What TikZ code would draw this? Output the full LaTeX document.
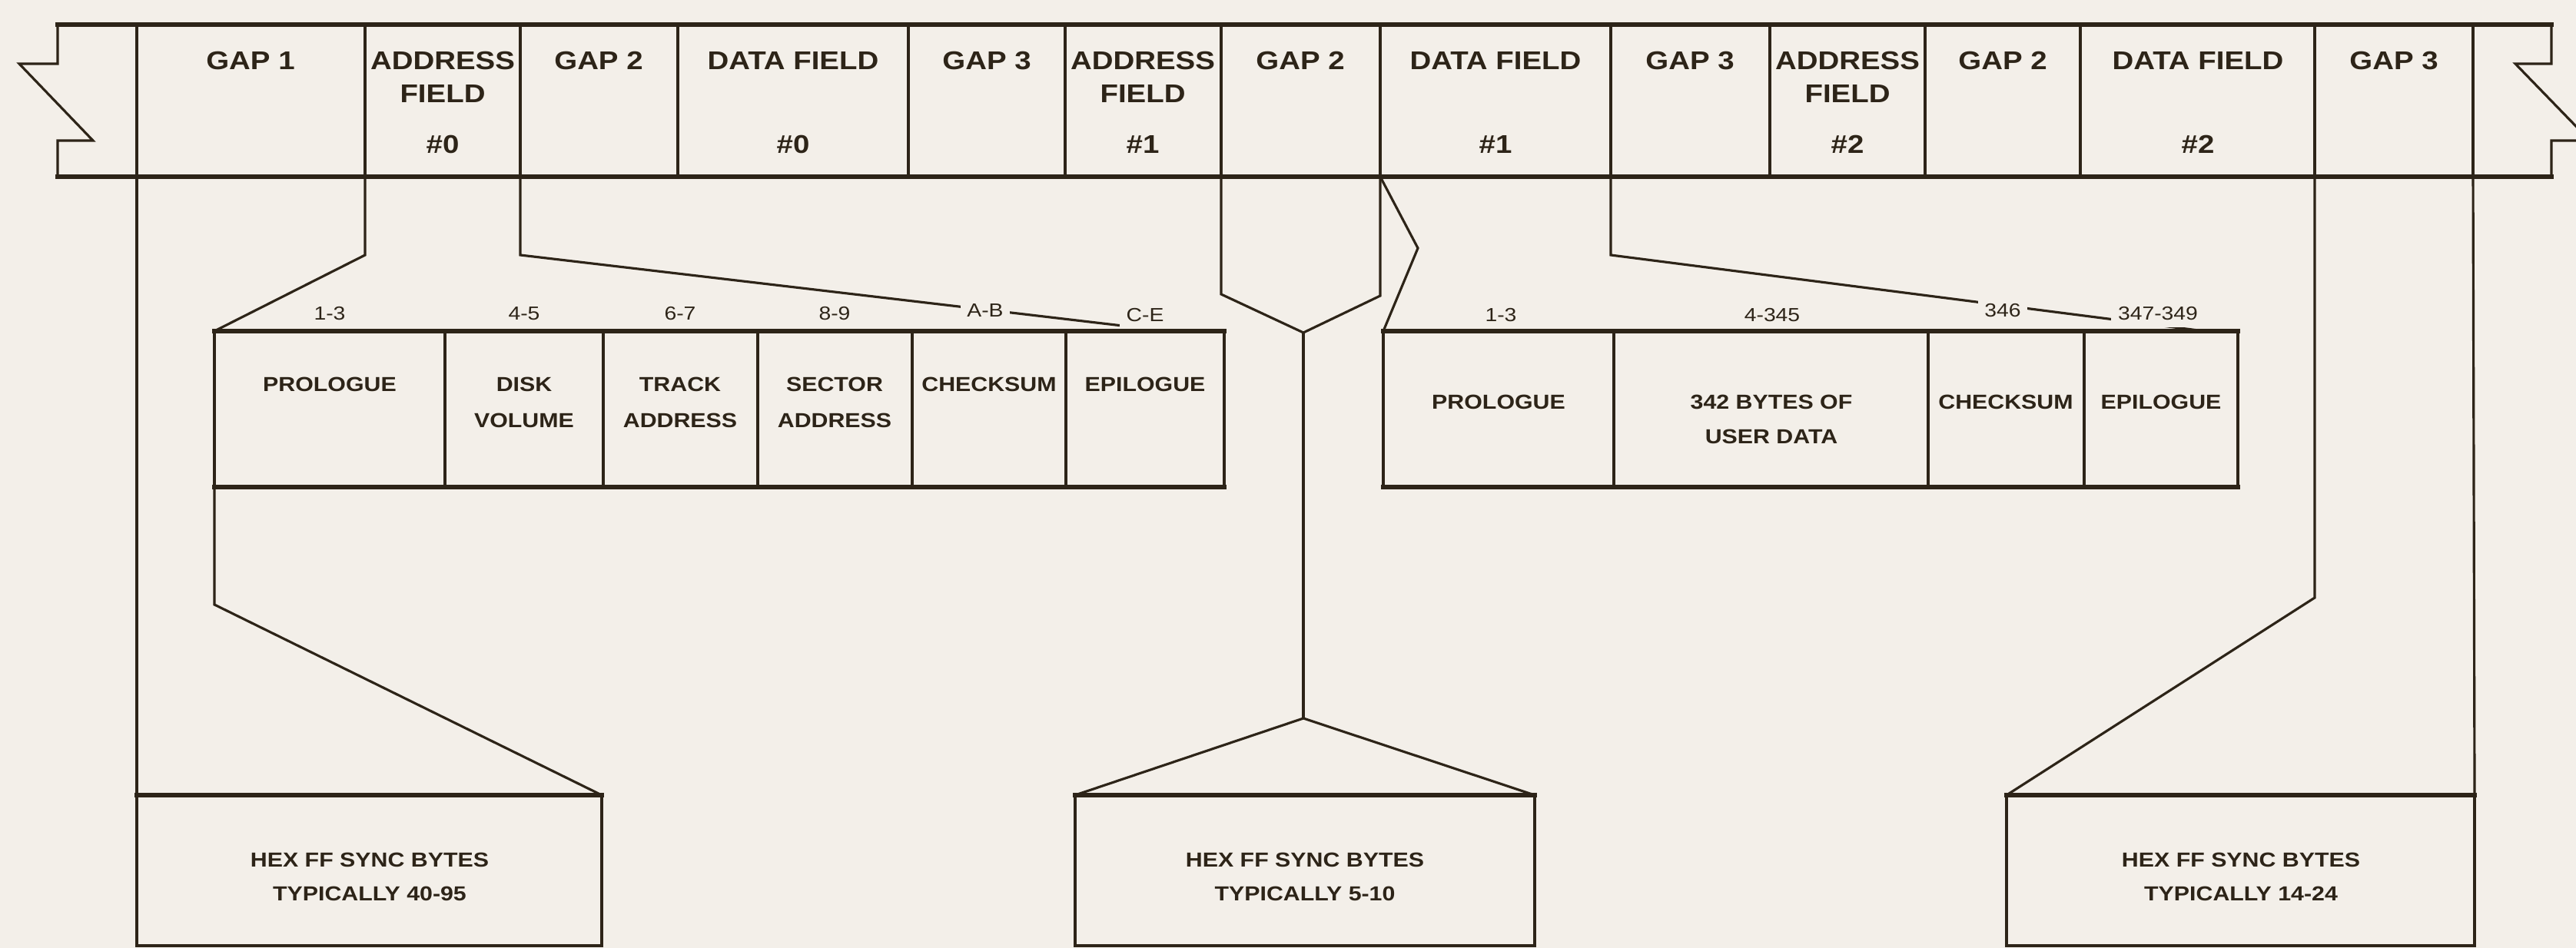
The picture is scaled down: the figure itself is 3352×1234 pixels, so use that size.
\documentclass[tikz,border=0pt]{standalone}
\usepackage{fontspec}
\setmainfont{Liberation Sans}
\newfontfamily\capfont[FakeStretch=1.15]{Liberation Sans}
\newfontfamily\numfont[FakeStretch=1.15]{Liberation Sans}
\definecolor{paper}{RGB}{243,239,233}
\definecolor{ink}{RGB}{45,36,24}
\tikzset{
  hl/.style={line width=1.5pt, draw=ink, line cap=rect},
  vl/.style={line width=0.9pt, draw=ink},
  conn/.style={line width=0.9pt, draw=ink, line join=miter},
  bigtxt/.style={font=\capfont\bfseries\fontsize{9.5}{10}\selectfont, text=ink, inner sep=0pt},
  midtxt/.style={font=\capfont\bfseries\fontsize{7.5}{8}\selectfont, text=ink, inner sep=0pt},
  numtxt/.style={font=\numfont\fontsize{7}{8}\selectfont, text=ink, fill=paper, inner sep=2.5pt},
}
\begin{document}
\begin{tikzpicture}[x=0.01cm,y=-0.01cm]
\useasboundingbox (0,0) rectangle (3352,1234);
\clip (0,0) rectangle (3352,1234);
\fill[paper] (0,0) rectangle (3352,1234);

% ---------------- track strip ----------------
\draw[hl] (75,32) -- (3320,32);
\draw[hl] (75,230) -- (3320,230);
\draw[vl, line join=miter] (75,32) -- (75,83) -- (25,83) -- (121,183) -- (75,183) -- (75,230);
\draw[vl, line join=miter] (3320,32) -- (3320,83) -- (3273,83) -- (3370,183) -- (3320,183) -- (3320,230);
\foreach \x in {178,475,677,882,1182,1386,1589,1796,2096,2303,2505,2707,3012,3218}
  \draw[vl] (\x,32) -- (\x,230);

\node[bigtxt] (g1) at (326,79) {GAP 1};
\node[bigtxt] (a0a) at (576,79) {ADDRESS};
\node[bigtxt] (a0b) at (576,122) {FIELD};
\node[bigtxt] (a0c) at (576,188) {\#0};
\node[bigtxt] (g2a) at (779,79) {GAP 2};
\node[bigtxt] (d0a) at (1032,79) {DATA FIELD};
\node[bigtxt] (d0c) at (1032,188) {\#0};
\node[bigtxt] (g3a) at (1284,79) {GAP 3};
\node[bigtxt] (a1a) at (1487,79) {ADDRESS};
\node[bigtxt] (a1b) at (1487,122) {FIELD};
\node[bigtxt] (a1c) at (1487,188) {\#1};
\node[bigtxt] (g2b) at (1692,79) {GAP 2};
\node[bigtxt] (d1a) at (1946,79) {DATA FIELD};
\node[bigtxt] (d1c) at (1946,188) {\#1};
\node[bigtxt] (g3b) at (2199,79) {GAP 3};
\node[bigtxt] (a2a) at (2404,79) {ADDRESS};
\node[bigtxt] (a2b) at (2404,122) {FIELD};
\node[bigtxt] (a2c) at (2404,188) {\#2};
\node[bigtxt] (g2c) at (2606,79) {GAP 2};
\node[bigtxt] (d2a) at (2860,79) {DATA FIELD};
\node[bigtxt] (d2c) at (2860,188) {\#2};
\node[bigtxt] (g3c) at (3115,79) {GAP 3};

% named points on the strip bottom
\coordinate (s178) at (178,230);
\coordinate (s475) at (475,230);
\coordinate (s677) at (677,230);
\coordinate (s1589) at (1589,230);
\coordinate (s1796) at (1796,230);
\coordinate (s2096) at (2096,230);
\coordinate (s3012) at (3012,230);
\coordinate (s3218) at (3218,230);

% ---------------- address field box ----------------
\coordinate (abTL) at (279,431);
\coordinate (abBL) at (279,634);
\coordinate (abTRline) at (1520,431);
\draw[hl] (279,431) -- (1593,431);
\draw[hl] (279,634) -- (1593,634);
\foreach \x in {279,579,785,986,1187,1387,1593}
  \draw[vl] (\x,431) -- (\x,634);
\node[midtxt] (ap) at (429,500) {PROLOGUE};
\node[midtxt] (adv1) at (682,500) {DISK};
\node[midtxt] (adv2) at (682,547) {VOLUME};
\node[midtxt] (ata1) at (885,500) {TRACK};
\node[midtxt] (ata2) at (885,547) {ADDRESS};
\node[midtxt] (asa1) at (1086,500) {SECTOR};
\node[midtxt] (asa2) at (1086,547) {ADDRESS};
\node[midtxt] (ack) at (1287,500) {CHECKSUM};
\node[midtxt] (aep) at (1490,500) {EPILOGUE};

% ---------------- data field box ----------------
\coordinate (dbTL) at (1800,431);
\coordinate (dbTRline) at (2868,431);
\draw[hl] (1800,431) -- (2912,431);
\draw[hl] (1800,634) -- (2912,634);
\foreach \x in {1800,2100,2509,2712,2912}
  \draw[vl] (\x,431) -- (\x,634);
\node[midtxt] (dp) at (1950,523) {PROLOGUE};
\node[midtxt] (du1) at (2305,523) {342 BYTES OF};
\node[midtxt] (du2) at (2305,568) {USER DATA};
\node[midtxt] (dck) at (2610,523) {CHECKSUM};
\node[midtxt] (dep) at (2812,523) {EPILOGUE};

% ---------------- sync boxes ----------------
\draw[hl] (178,1035) -- (783,1035);
\draw[vl] (178,1035) -- (178,1231) -- (783,1231) -- (783,1035);
\draw[hl] (1399,1035) -- (1997,1035);
\draw[vl] (1399,1035) -- (1399,1231) -- (1997,1231) -- (1997,1035);
\draw[hl] (2611,1035) -- (3220,1035);
\draw[vl] (2611,1035) -- (2611,1231) -- (3220,1231) -- (3220,1035);
\coordinate (y1TL) at (178,1035);
\coordinate (y1TR) at (783,1035);
\coordinate (y2TL) at (1399,1035);
\coordinate (y2TR) at (1997,1035);
\coordinate (y3TL) at (2611,1035);
\coordinate (y3TR) at (3220,1035);
\node[midtxt] (y1a) at (481,1119) {HEX FF SYNC BYTES};
\node[midtxt] (y1b) at (481,1163) {TYPICALLY 40-95};
\node[midtxt] (y2a) at (1698,1119) {HEX FF SYNC BYTES};
\node[midtxt] (y2b) at (1698,1163) {TYPICALLY 5-10};
\node[midtxt] (y3a) at (2916,1119) {HEX FF SYNC BYTES};
\node[midtxt] (y3b) at (2916,1163) {TYPICALLY 14-24};

% ---------------- connectors ----------------
\coordinate (apex1) at (1696,433);
\coordinate (apex2) at (1696,935);
\draw[conn] (s178) -- (y1TL);
\draw[conn] (abBL) -- (279,787) -- (y1TR);
\draw[conn] (s475) -- (475,332) -- (abTL);
\draw[conn] (s677) -- (677,332) -- (abTRline);
\draw[conn] (s1589) -- (1589,383) -- (apex1);
\draw[conn] (s1796) -- (1796,385) -- (apex1);
\draw[conn] (apex1) -- (apex2);
\draw[conn] (s1796) -- (1845,323) -- (dbTL);
\draw[conn] (y2TL) -- (apex2) -- (y2TR);
\draw[conn] (s2096) -- (2096,332) -- (dbTRline);
\draw[conn] (s3012) -- (3012,778) -- (y3TL);
\draw[conn] (s3218) -- (y3TR);

% ---------------- byte labels ----------------
\node[numtxt] (n13a) at (429,408) {1-3};
\node[numtxt] (n45) at (682,408) {4-5};
\node[numtxt] (n67) at (885,408) {6-7};
\node[numtxt] (n89) at (1086,408) {8-9};
\node[numtxt] (nab) at (1282,404) {A-B};
\node[numtxt] (nce) at (1490,410) {C-E};
\node[numtxt] (n13b) at (1953,410) {1-3};
\node[numtxt] (n4345) at (2306,410) {4-345};
\node[numtxt] (n346) at (2606,404) {346};
\node[numtxt] (n347) at (2808,408) {347-349};
\end{tikzpicture}
\end{document}
